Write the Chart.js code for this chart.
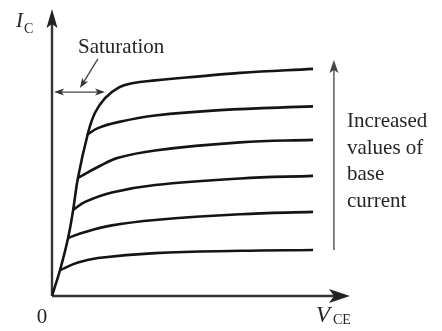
<!DOCTYPE html>
<html>
<head>
<meta charset="utf-8">
<script src="https://cdn.jsdelivr.net/npm/chart.js@4"></script>
<style>
  html, body { margin: 0; padding: 0; background: #fff; }
  #wrap { width: 442px; height: 331px; }
</style>
</head>
<body>
<div id="wrap"><canvas id="myChart" width="442" height="331"></canvas></div>
<script>
const ctx = document.getElementById("myChart");

// collector characteristics, V_CE on x, I_C on y (arbitrary units 0..10)
// curve 1 is the top one and also carries the saturation rise from the origin
const vce1 = [0, 0.27, 0.54, 0.71, 0.87, 1.21, 1.44, 1.78, 2.22, 2.69, 3.46, 4.95, 6.31, 8.76];
const ic1 = [0, 0.91, 2.03, 3.01, 4.13, 5.70, 6.40, 6.92, 7.28, 7.44, 7.54, 7.68, 7.80, 7.94];
const vce2 = [1.17, 1.54, 2.22, 3.46, 5.64, 8.76];
const ic2 = [5.63, 5.87, 6.08, 6.31, 6.50, 6.63];
const vce3 = [0.87, 1.54, 2.22, 3.46, 6.31, 8.76];
const ic3 = [4.13, 4.51, 4.83, 5.09, 5.37, 5.46];
const vce4 = [0.71, 1.11, 2.01, 3.46, 6.31, 8.76];
const ic4 = [3.01, 3.29, 3.62, 3.88, 4.11, 4.20];
const vce5 = [0.54, 1.11, 2.01, 3.46, 6.31, 8.76];
const ic5 = [2.03, 2.24, 2.47, 2.66, 2.86, 2.94];
const vce6 = [0.27, 0.87, 1.54, 3.46, 6.31, 8.76];
const ic6 = [0.91, 1.17, 1.33, 1.50, 1.58, 1.61];

// annotation text
const satLabel = "Saturation";
const baseLabel = ["Increased", "values of", "base", "current"];
const originLabel = "0";

// annotation anchors in data units
const satArrowY = 7.13;
const satArrowX = [0, 1.78];
const satPointer = [[1.54, 8.29], [0.94, 7.27]];
const baseArrowX = 9.46;
const baseArrowY = [1.61, 8.25];

const curves = [
  [vce1, ic1], [vce2, ic2], [vce3, ic3],
  [vce4, ic4], [vce5, ic5], [vce6, ic6],
];

let dataset = [];
curves.map(([xs, ys]) => {
  dataset.push({
    data: xs.map((x, i) => ({ x: x, y: ys[i] })),
    borderColor: "#141414",
    borderWidth: 2.6,
    pointRadius: 0,
    tension: 0.4,
    fill: false,
  });
});

function arrowHead(c, x, y, ang, len, half, notch) {
  c.save();
  c.translate(x, y);
  c.rotate(ang);
  c.beginPath();
  c.moveTo(0, 0);
  c.lineTo(-len, -half);
  c.lineTo(-len + notch, 0);
  c.lineTo(-len, half);
  c.closePath();
  c.fill();
  c.restore();
}

const decorations = {
  id: "decorations",
  beforeDatasetsDraw(chart) {
    const c = chart.ctx;
    const xs = chart.scales.x;
    const ys = chart.scales.y;
    const x0 = xs.getPixelForValue(0);
    const y0 = ys.getPixelForValue(0);
    const xEnd = xs.getPixelForValue(10);
    const yEnd = ys.getPixelForValue(10);
    c.save();
    c.strokeStyle = "#333";
    c.fillStyle = "#222";
    c.lineWidth = 2.4;
    c.beginPath();
    c.moveTo(x0, y0);
    c.lineTo(x0, yEnd + 10);
    c.moveTo(x0, y0);
    c.lineTo(xEnd - 10, y0);
    c.stroke();
    arrowHead(c, x0, yEnd - 1, -Math.PI / 2, 19, 5.5, 4);
    arrowHead(c, xEnd, y0, 0, 21, 7, 5);
    c.restore();
  },
  afterDatasetsDraw(chart) {
    const c = chart.ctx;
    const xs = chart.scales.x;
    const ys = chart.scales.y;
    const px = (v) => xs.getPixelForValue(v);
    const py = (v) => ys.getPixelForValue(v);
    c.save();

    // saturation double arrow
    c.strokeStyle = "#444";
    c.fillStyle = "#333";
    c.lineWidth = 1.3;
    const sy = py(satArrowY);
    const sx1 = px(satArrowX[0]) + 2;
    const sx2 = px(satArrowX[1]);
    c.beginPath();
    c.moveTo(sx1 + 6, sy);
    c.lineTo(sx2 - 6, sy);
    c.stroke();
    arrowHead(c, sx1, sy, Math.PI, 10, 3.5, 2.5);
    arrowHead(c, sx2, sy, 0, 10, 3.5, 2.5);

    // pointer from label
    const p1x = px(satPointer[0][0]), p1y = py(satPointer[0][1]);
    const p2x = px(satPointer[1][0]), p2y = py(satPointer[1][1]);
    const ang = Math.atan2(p2y - p1y, p2x - p1x);
    c.beginPath();
    c.moveTo(p1x, p1y);
    c.lineTo(p2x - 6 * Math.cos(ang), p2y - 6 * Math.sin(ang));
    c.stroke();
    arrowHead(c, p2x, p2y, ang, 10, 3.5, 2.5);

    // base current arrow
    const bx = px(baseArrowX);
    c.strokeStyle = "#666";
    c.fillStyle = "#444";
    c.lineWidth = 1.6;
    c.beginPath();
    c.moveTo(bx, py(baseArrowY[0]));
    c.lineTo(bx, py(baseArrowY[1]) + 8);
    c.stroke();
    arrowHead(c, bx, py(baseArrowY[1]), -Math.PI / 2, 13, 4.5, 3);

    // texts
    c.fillStyle = "#262626";
    c.textBaseline = "alphabetic";
    c.font = "21px 'Liberation Serif'";
    c.textAlign = "left";
    c.fillText(satLabel, 78, 53);
    baseLabel.forEach((t, i) => c.fillText(t, bx + 13, 127 + i * 26.5));
    c.textAlign = "center";
    c.fillText(originLabel, px(0) - 10, 323);

    c.textAlign = "left";
    c.font = "italic 21px 'Liberation Serif'";
    c.fillText("I", 16, 27);
    c.font = "14px 'Liberation Serif'";
    c.fillText("C", 24, 33);
    c.font = "italic 23px 'Liberation Serif'";
    c.fillText("V", 316, 322);
    c.font = "14px 'Liberation Serif'";
    c.fillText("CE", 333, 324);
    c.restore();
  },
};

const myChart = new Chart(ctx, {
  type: "line",
  data: { datasets: dataset },
  options: {
    responsive: false,
    animation: false,
    devicePixelRatio: 1,
    layout: { padding: { left: 52, right: 92, top: 10, bottom: 35 } },
    plugins: { legend: { display: false }, tooltip: { enabled: false } },
    scales: {
      x: { type: "linear", min: 0, max: 10, display: false },
      y: { type: "linear", min: 0, max: 10, display: false },
    },
  },
  plugins: [decorations],
});
</script>
</body>
</html>
